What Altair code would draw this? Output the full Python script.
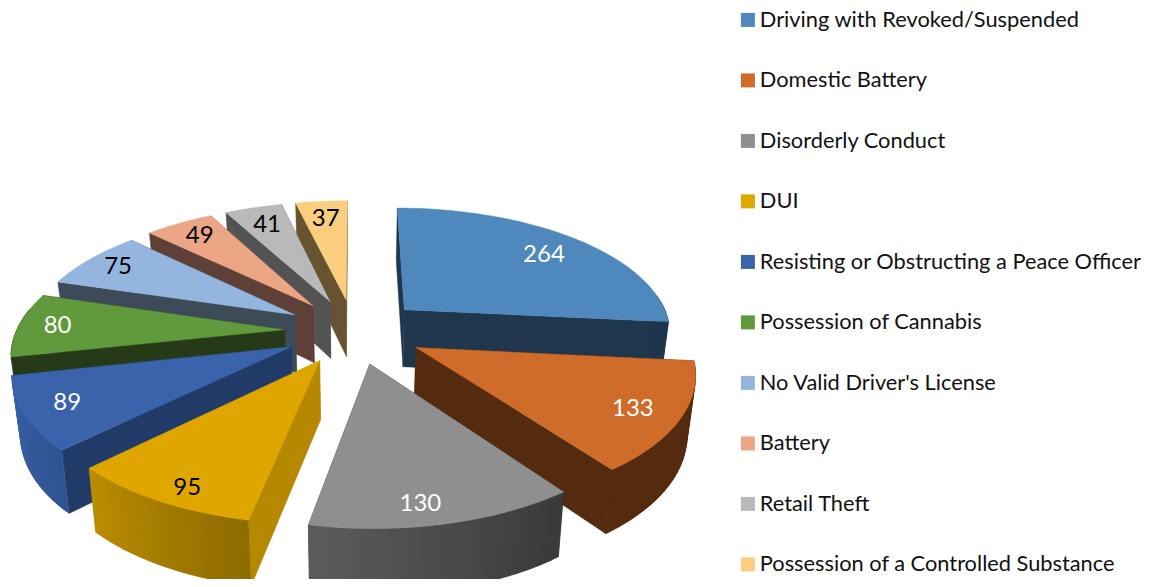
import math
import altair as alt

categories = ["Driving with Revoked/Suspended", "Domestic Battery", "Disorderly Conduct", "DUI",
              "Resisting or Obstructing a Peace Officer", "Possession of Cannabis",
              "No Valid Driver's License", "Battery", "Retail Theft",
              "Possession of a Controlled Substance"]
values = [264, 133, 130, 95, 89, 80, 75, 49, 41, 37]

top_colors = ["#4F88BC", "#CF6C29", "#8F8F8F", "#DFA600", "#3A63AC", "#609A3C", "#94B6DE", "#ECA585", "#B9B9B9", "#FBCD7E"]
face_colors = ["#1F364D", "#552B0F", "#393939", "#B58800", "#213B69", "#273A18", "#3D4A58", "#5F4036", "#535353", "#67532F"]
rim_start = ["#1F364D", "#552B0F", "#393939", "#8E6B00", "#2F5391", "#273A18", "#3D4A58", "#5F4036", "#535353", "#67532F"]
rim_end = ["#1F364D", "#552B0F", "#5C5C5C", "#BB8D00", "#3A61A8", "#273A18", "#3D4A58", "#5F4036", "#535353", "#67532F"]
label_colors = ["white", "white", "white", "black", "white", "white", "black", "black", "black", "black"]
label_radius = [0.78, 0.84, 0.885, 0.90, 0.85, 0.855, 0.855, 0.83, 0.80, 0.80]
label_along = [0.52, 0.53, 0.565, 0.43, 0.50, 0.50, 0.50, 0.50, 0.50, 0.50]
draw_order = [9, 8, 7, 6, 5, 0, 1, 4, 3, 2]

CX, CY, A, B, K, EXPLODE = 354, 331, 268, 125, 0.165, 0.26
DEPTH, K_DEPTH, SHRINK = 58, 0.1, 0.975
FONT = "Lato"


def top(u, v):
    d = 1 + K * v
    return CX + A * u / d, CY - B * v / d


def bottom(u, v):
    x, y = top(u, v)
    return CX + (x - CX) * SHRINK, y + DEPTH / (1 + K_DEPTH * v)


def mix(c0, c1, t):
    a = [int(c0[i:i + 2], 16) for i in (1, 3, 5)]
    b = [int(c1[i:i + 2], 16) for i in (1, 3, 5)]
    return "#%02X%02X%02X" % tuple(round(p + (q - p) * t) for p, q in zip(a, b))


total = sum(values)
edges = [0]
for v in values:
    edges.append(edges[-1] + v / total * 2 * math.pi)

features, shades, labels = [], [], []


def add(points, key):
    ring = [list(p) for p in points] + [list(points[0])]
    features.append({"type": "Feature", "properties": {"key": key},
                     "geometry": {"type": "Polygon", "coordinates": [ring]}})
    if key not in categories and key not in shades:
        shades.append(key)


for i in draw_order:
    a0, a1 = edges[i], edges[i + 1]
    mid = (a0 + a1) / 2
    ax, ay = EXPLODE * math.sin(mid), EXPLODE * math.cos(mid)
    rim = lambda t: (ax + math.sin(a0 + (a1 - a0) * t), ay + math.cos(a0 + (a1 - a0) * t))
    for t in (0, 1):
        p = rim(t)
        add([top(ax, ay), top(*p), bottom(*p), bottom(ax, ay)], face_colors[i])
    n = 30
    for s in range(n):
        t0, t1 = s / n, (s + 1) / n
        if math.cos(a0 + (a1 - a0) * (t0 + t1) / 2) > 0.15:
            continue
        arc = [rim(min(1, t0 + j / (3 * n))) for j in range(7)]
        add([top(*p) for p in arc] + [bottom(*p) for p in reversed(arc)],
            mix(rim_start[i], rim_end[i], (t0 + t1) / 2))
    add([top(ax, ay)] + [top(*rim(s / 60)) for s in range(61)], categories[i])

for i in range(10):
    mid = (edges[i] + edges[i + 1]) / 2
    ang = edges[i] + (edges[i + 1] - edges[i]) * label_along[i]
    r = label_radius[i]
    x, y = top(EXPLODE * math.sin(mid) + r * math.sin(ang), EXPLODE * math.cos(mid) + r * math.cos(ang))
    labels.append({"lon": x, "lat": y, "text": str(values[i]), "color": label_colors[i]})

projection = dict(type="identity", scale=1, translate=[-8, -8])
scale = alt.Scale(domain=categories + shades, range=top_colors + shades)

pie = alt.Chart(alt.InlineData(values={"type": "FeatureCollection", "features": features},
                               format=alt.DataFormat(property="features", type="json"))).mark_geoshape(
    strokeWidth=0.4).encode(
    fill=alt.Fill("properties.key:N", scale=scale,
                  legend=alt.Legend(values=categories, title=None, orient="none", legendX=729, legendY=1,
                                    symbolType="square", symbolSize=196, symbolStrokeWidth=0, symbolOpacity=1,
                                    labelFont=FONT, labelFontSize=21.8, labelColor="#111111", labelLimit=420,
                                    rowPadding=37.5, labelOffset=1)),
    stroke=alt.Stroke("properties.key:N", scale=scale, legend=None),
).project(**projection)

text = alt.Chart(alt.Data(values=labels)).mark_text(font=FONT, fontSize=24).encode(
    longitude="lon:Q", latitude="lat:Q", text="text:N", color=alt.Color("color:N", scale=None),
).project(**projection)

chart = alt.layer(pie, text).properties(
    width=1135, height=571, padding=0, autosize=alt.AutoSizeParams(type="none"),
).configure_view(stroke=None)

chart.save("out.html", embed_options={"renderer": "svg", "actions": False})
